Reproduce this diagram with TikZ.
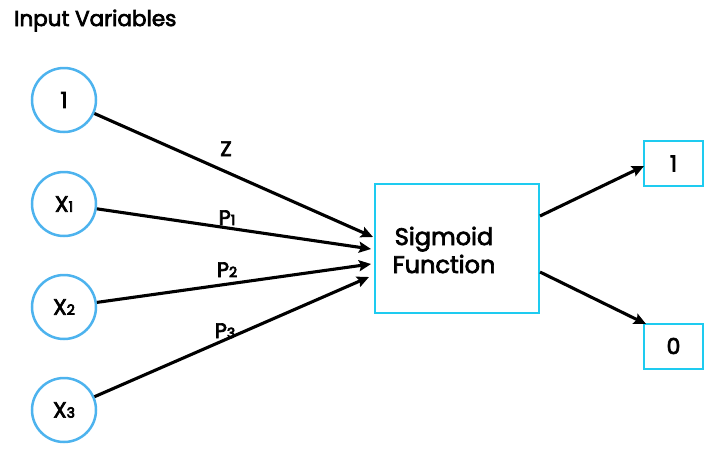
\documentclass[tikz,border=0pt]{standalone}
\usepackage{fontspec}
\setmainfont{Poppins}
\usetikzlibrary{arrows.meta}
\definecolor{circblue}{HTML}{4DB3EE}
\definecolor{boxcyan}{HTML}{1ECBF0}
\newcommand{\thk}[1]{\special{pdf:literal direct 2 Tr 0.7 w}#1\special{pdf:literal direct 0 Tr}}
\newcommand{\sbx}[1]{{\fontsize{14}{14}\selectfont #1}}
\tikzset{
  invar/.style={circle, draw=circblue, line width=2.5pt, minimum size=64pt, inner sep=0pt, font=\fontsize{22}{24}\selectfont},
  sigbox/.style={draw=boxcyan, line width=2pt, minimum width=164pt, minimum height=129pt, inner sep=0pt},
  outbox/.style={draw=boxcyan, line width=2pt, minimum width=59pt, minimum height=45pt, inner sep=0pt, font=\fontsize{22}{24}\selectfont},
  conn/.style={line width=3.1pt, -{Stealth[length=12pt,width=11pt,inset=2pt]}},
  wlabel/.style={font=\fontsize{21}{24}\selectfont, inner sep=0pt, anchor=base},
}
\begin{document}
\begin{tikzpicture}[x=1pt,y=-1pt]
\useasboundingbox (0,0) rectangle (720,467);
\node[font=\fontsize{21.5}{23}\selectfont, anchor=base west, inner sep=0pt] (title) at (14,26) {\thk{Input Variables}};
\node[invar] (c1) at (64,100) {\thk{1}};
\node[invar] (x1) at (64,204) {\thk{X\sbx{1}}};
\node[invar] (x2) at (64,307) {\thk{X\sbx{2}}};
\node[invar] (x3) at (64,410) {\thk{X\sbx{3}}};
\node[sigbox] (sig) at (457,248.5) {};
\node[font=\fontsize{24}{28}\selectfont, align=center, inner sep=0pt] (sigtxt) at (444,250) {\thk{Sigmoid}\\\thk{Function}};
\node[outbox] (o1) at (673.5,163.5) {\thk{1}};
\node[outbox] (o0) at (673.5,346) {\thk{0}};
\coordinate (t1) at (373,237);
\coordinate (t2) at (371,249);
\coordinate (t3) at (371,264);
\coordinate (t4) at (369,277);
\coordinate (s1) at (540,216);
\coordinate (s0) at (540,272);
\coordinate (e1) at (644,166);
\coordinate (e0) at (646,324);
\draw[conn] (c1) -- (t1);
\draw[conn] (x1) -- (t2);
\draw[conn] (x2) -- (t3);
\draw[conn] (x3) -- (t4);
\draw[conn] (s1) -- (e1);
\draw[conn] (s0) -- (e0);
\node[wlabel] (lz) at (226,156) {\thk{Z}};
\node[wlabel] (lp1) at (227,225) {\thk{P\sbx{1}}};
\node[wlabel] (lp2) at (227,277) {\thk{P\sbx{2}}};
\node[wlabel] (lp3) at (225,338) {\thk{P\sbx{3}}};
\end{tikzpicture}
\end{document}
